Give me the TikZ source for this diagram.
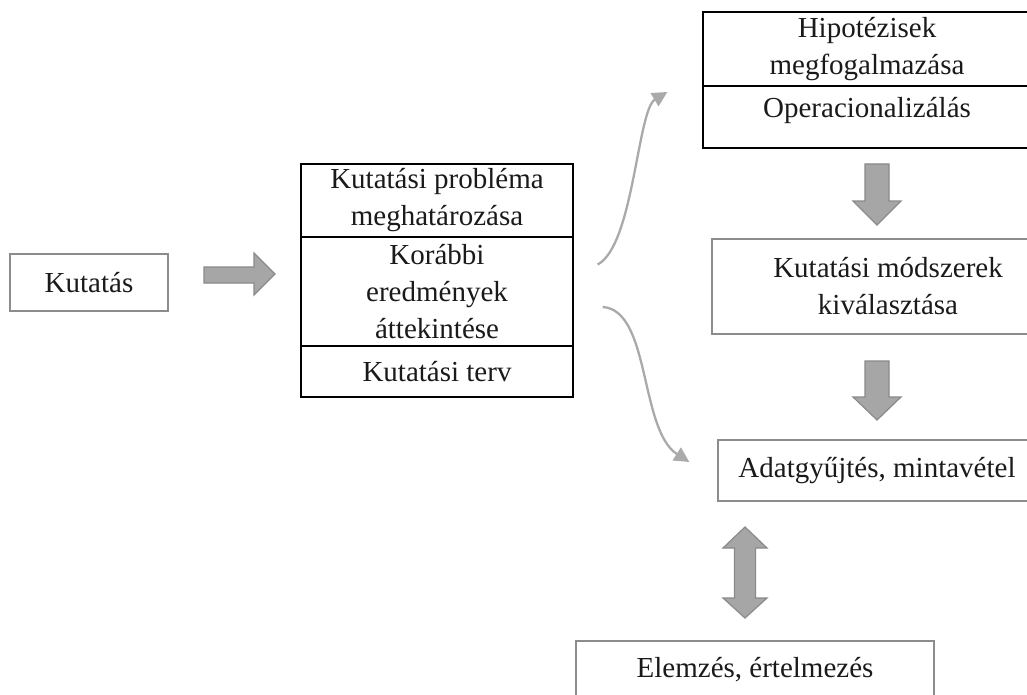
\documentclass[tikz,border=0pt]{standalone}
\usepackage{fontspec}
\setmainfont{Liberation Serif}
\usetikzlibrary{arrows.meta,calc}
\definecolor{boxgray}{HTML}{8C8C8C}
\definecolor{arrowfill}{HTML}{A6A6A6}
\definecolor{arrowline}{HTML}{8A8A8A}
\definecolor{curvegray}{HTML}{AAAAAA}
\definecolor{txt}{HTML}{1A1A1A}
\begin{document}
\begin{tikzpicture}[x=1pt,y=-1pt,
  box/.style={draw=#1, line width=1.3pt, rectangle, inner sep=0pt, align=center,
    text=txt, font=\fontsize{29}{37}\selectfont},
  box/.default=black,
  blockarrow/.style={fill=arrowfill, draw=arrowline, line width=1.2pt, line join=miter},
  curvearrow/.style={draw=curvegray, line width=2.3pt,
    -{Triangle[length=15pt,width=15pt]}}]
\clip (0,0) rectangle (1027,695);
\fill[white] (0,0) rectangle (1027,695);
% boxes
\node[box=boxgray, minimum width=158pt, minimum height=57pt] (kut) at (89,282.5) {Kutatás};
\node[box, minimum width=272pt, minimum height=73pt] (m1) at (437,200.5) {Kutatási probléma\\meghatározása};
\node[box, minimum width=272pt, minimum height=109pt] (m2) at (437,291.5) {Korábbi\\eredmények\\áttekintése};
\node[box, minimum width=272pt, minimum height=51pt] (m3) at (437,371.5) {Kutatási terv};
\node[box, minimum width=328pt, minimum height=74pt] (h1) at (867,49) {Hipotézisek\\megfogalmazása};
\node[box, minimum width=328pt, minimum height=62pt, text depth=20pt] (h2) at (867,117) {Operacionalizálás};
\node[box=boxgray, minimum width=352pt, minimum height=95pt] (kms) at (888,286.5) {Kutatási módszerek\\kiválasztása};
\node[box=boxgray, minimum width=318pt, minimum height=61pt] (adat) at (877,470.5) {Adatgyűjtés, mintavétel};
\node[box=boxgray, minimum width=358pt, minimum height=58pt] (elem) at (755,670) {Elemzés, értelmezés};
% block arrows
\draw[blockarrow] (204,267) -- (254,267) -- (254,253) -- (275,274) -- (254,295) -- (254,283) -- (204,283) -- cycle;
\draw[blockarrow] (865,164) -- (889,164) -- (889,201) -- (901,201) -- (877,225) -- (853,201) -- (865,201) -- cycle;
\draw[blockarrow] (865,361) -- (889,361) -- (889,397) -- (901,397) -- (877,420) -- (853,397) -- (865,397) -- cycle;
\draw[blockarrow] (745,527) -- (767,548) -- (755.5,548) -- (755.5,598) -- (767,598) -- (745,618)
  -- (723,598) -- (734.5,598) -- (734.5,548) -- (723,548) -- cycle;
% curved arrows
\coordinate (u0) at ($(m2.east)+(24,-27)$);
\coordinate (u1) at ($(h1.west)+(-35,43)$);
\coordinate (l0) at ($(m2.east)+(29,15.5)$);
\coordinate (l1) at ($(adat.west)+(-28,-8.5)$);
\draw[curvearrow] (u0) .. controls ($(u0)+(36,-19)$) and ($(u1)+(-30,18)$) .. (u1);
\draw[curvearrow] (l0) .. controls ($(l0)+(48,3)$) and ($(l1)+(-50,-32)$) .. (l1);
\end{tikzpicture}
\end{document}
